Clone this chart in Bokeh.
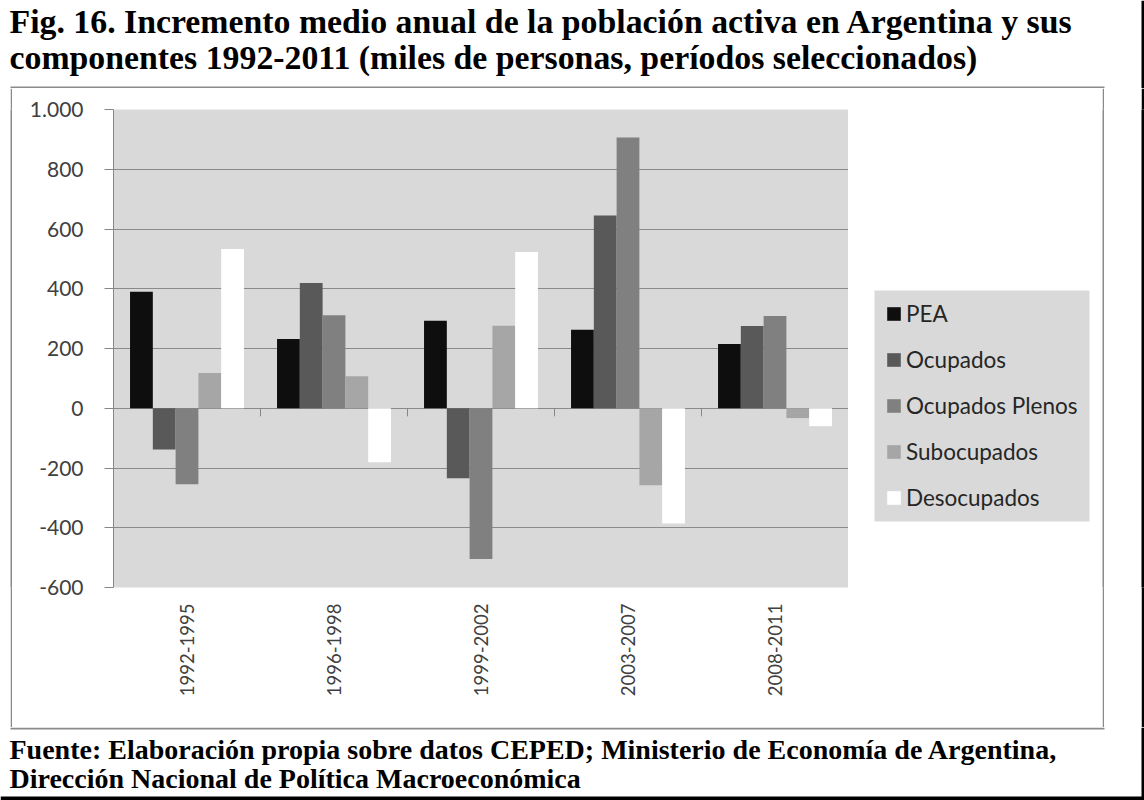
import math
from bokeh.plotting import figure
from bokeh.layouts import column, row
from bokeh.models import (FactorRange, Range1d, FixedTicker, Legend, LegendItem,
                          ColumnDataSource)
from bokeh.transform import dodge
from bokeh.core.properties import value
from bokeh.embed import file_html
from bokeh.resources import INLINE

# ---------------- data ----------------
periods = ["1992-1995", "1996-1998", "1999-2002", "2003-2007", "2008-2011"]
pea = [390, 232, 293, 263, 215]
ocupados = [-138, 419, -234, 645, 275]
ocupados_plenos = [-254, 311, -505, 906, 309]
subocupados = [118, 107, 276, -258, -33]
desocupados = [533, -181, 523, -386, -60]

series_keys = ["pea", "ocupados", "ocupados_plenos", "subocupados", "desocupados"]
series_names = ["PEA", "Ocupados", "Ocupados Plenos", "Subocupados", "Desocupados"]
series_colors = ["#0e0e0e", "#595959", "#808080", "#a6a6a6", "#ffffff"]

y_ticks = [-600, -400, -200, 0, 200, 400, 600, 800, 1000]
y_tick_labels = ["-600", "-400", "-200", "0", "200", "400", "600", "800", "1.000"]

title_lines = [
    "Fig. 16. Incremento medio anual de la población activa en Argentina y sus",
    "componentes 1992-2011 (miles de personas, períodos seleccionados)",
]
source_lines = [
    "Fuente: Elaboración propia sobre datos CEPED; Ministerio de Economía de Argentina,",
    "Dirección Nacional de Política Macroeconómica",
]

BOX = "#8a8a8a"
TXT = "#404040"
PANEL = "#d9d9d9"
MID_H = 639
FRAME_TOP, FRAME_BOTTOM = 21, 140
FRAME_H = MID_H - FRAME_TOP - FRAME_BOTTOM


def canvas_fig(w, h):
    f = figure(width=w, height=h, x_range=Range1d(0, w), y_range=Range1d(h, 0),
               output_backend="svg", toolbar_location=None, min_border=0,
               x_axis_location=None, y_axis_location=None)
    f.outline_line_color = None
    f.grid.visible = False
    f.background_fill_color = "white"
    f.border_fill_color = "white"
    return f


def solid(w, color):
    f = canvas_fig(w, MID_H)
    f.background_fill_color = color
    f.border_fill_color = color
    return f


# ---------------- header (title) ----------------
head = canvas_fig(1144, 88)
head.text(x=[9, 9], y=[21, 57], text=title_lines, text_font=value("Liberation Serif"),
          text_font_style="bold", text_font_size=value("33.8px"), text_color="black",
          text_baseline="alphabetic", text_align="left")
head.quad(left=10, right=1104, top=86, bottom=88, fill_color=BOX, line_color=None)
head.quad(left=1141, right=1144, top=0, bottom=88, fill_color="black", line_color=None)

# ---------------- chart ----------------
p = figure(width=836, height=MID_H, x_range=FactorRange(factors=periods),
           y_range=Range1d(-600, 1000), output_backend="svg", toolbar_location=None,
           min_border_left=101, min_border_right=0, min_border_top=FRAME_TOP,
           min_border_bottom=FRAME_BOTTOM)
p.background_fill_color = PANEL
p.border_fill_color = "white"
p.outline_line_color = None

p.xgrid.visible = False
p.ygrid.grid_line_color = "#8a8a8a"
p.ygrid.grid_line_width = 1.2

ya = p.yaxis[0]
ya.ticker = FixedTicker(ticks=y_ticks)
ya.major_label_overrides = {t: l for t, l in zip(y_ticks, y_tick_labels)}
ya.axis_line_color = "#868686"
ya.major_tick_line_color = "#868686"
ya.major_tick_out = 9
ya.major_tick_in = 0
ya.minor_tick_line_color = None
ya.major_label_text_font = "Lato"
ya.major_label_text_font_size = "21px"
ya.major_label_text_color = TXT
ya.major_label_standoff = 21

xa = p.xaxis[0]
xa.axis_line_color = None
xa.major_tick_line_color = None
xa.major_label_orientation = math.pi / 2
xa.major_label_text_font = "Lato"
xa.major_label_text_font_size = "18.5px"
xa.major_label_text_color = TXT
xa.major_label_standoff = 10

src = ColumnDataSource(dict(period=periods, pea=pea, ocupados=ocupados,
                            ocupados_plenos=ocupados_plenos,
                            subocupados=subocupados, desocupados=desocupados))

bar_w = 0.155
n = len(series_keys)
for i, (k, col) in enumerate(zip(series_keys, series_colors)):
    off = (i - (n - 1) / 2) * bar_w
    p.vbar(x=dodge("period", off, range=p.x_range), top=k, bottom=0, width=bar_w,
           source=src, fill_color=col, line_color=None)

# small category separator ticks below the zero line
sep_src = ColumnDataSource(dict(period=periods[:-1]))
p.segment(x0=dodge("period", 0.5, range=p.x_range), x1=dodge("period", 0.5, range=p.x_range),
          y0=0, y1=-27, source=sep_src, line_color="#868686", line_width=1)

# ---------------- legend panel (right part of chart box) ----------------
lg = figure(width=254, height=MID_H, x_range=Range1d(0, 254), y_range=Range1d(FRAME_H, 0),
            output_backend="svg", toolbar_location=None, min_border_left=0,
            min_border_right=0, min_border_top=FRAME_TOP, min_border_bottom=FRAME_BOTTOM,
            x_axis_location=None, y_axis_location=None)
lg.outline_line_color = None
lg.grid.visible = False
lg.background_fill_color = "white"
lg.border_fill_color = "white"
# legend background box
lg.quad(left=26, right=241, top=181, bottom=412, fill_color=PANEL, line_color=None)
items = []
for name, col in zip(series_names, series_colors):
    r = lg.vbar(x=[0], top=[0], bottom=[0], width=0, fill_color=col, line_color=None)
    items.append(LegendItem(label=name, renderers=[r]))
legend = Legend(items=items, location=(37, 67), orientation="vertical",
                background_fill_alpha=0, border_line_color=None,
                padding=0, spacing=0, margin=0,
                glyph_width=17, glyph_height=17, label_height=46, label_standoff=4,
                label_text_font="Lato", label_text_font_size="22.5px",
                label_text_color="#262626")
lg.add_layout(legend, "center")

middle = row(solid(10, "white"), solid(2, BOX), p, lg, solid(2, BOX),
             solid(37, "white"), solid(3, "black"), spacing=0)

# ---------------- footer (source) ----------------
foot = canvas_fig(1144, 73)
foot.quad(left=10, right=1104, top=0, bottom=2, fill_color=BOX, line_color=None)
foot.text(x=[9, 9], y=[22, 51], text=source_lines, text_font=value("Liberation Serif"),
          text_font_style="bold", text_font_size=value("28px"), text_color="black",
          text_baseline="alphabetic", text_align="left")
foot.quad(left=1141, right=1144, top=0, bottom=73, fill_color="black", line_color=None)
foot.quad(left=0, right=1144, top=69, bottom=73, fill_color="black", line_color=None)

layout = column(head, middle, foot, spacing=0)
open("out.html", "w").write(file_html(layout, INLINE))
